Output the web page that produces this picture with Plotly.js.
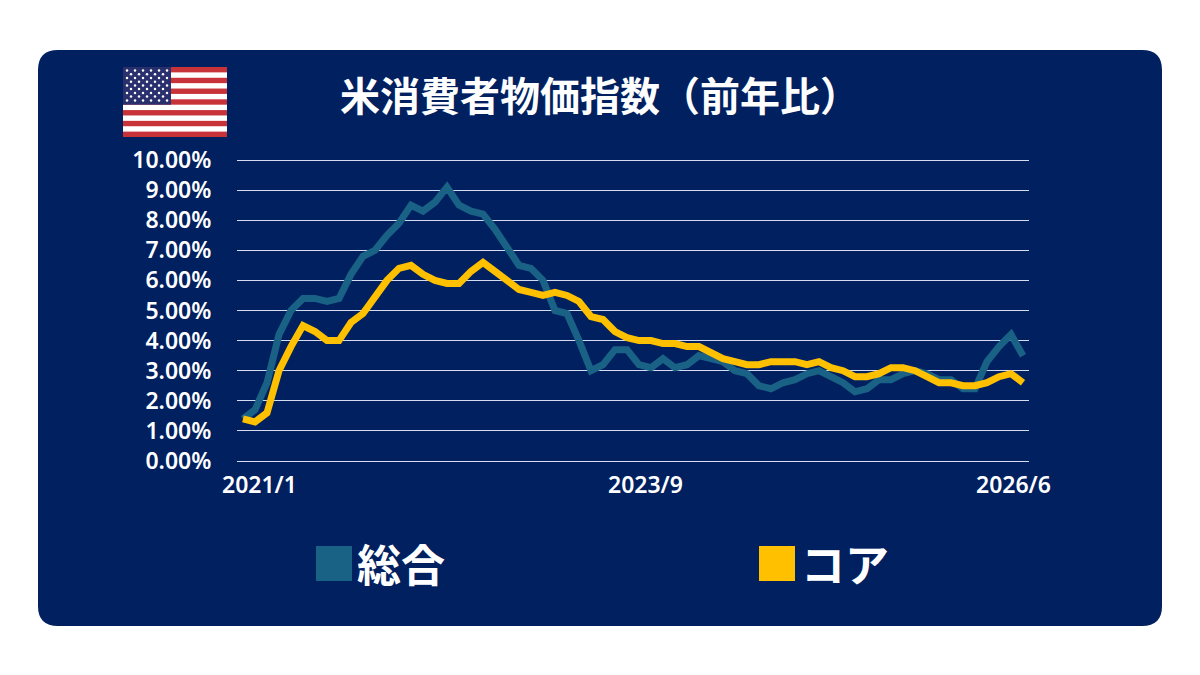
<!DOCTYPE html>
<html><head><meta charset="utf-8">
<script src="https://cdn.plot.ly/plotly-3.0.1.min.js"></script>
<style>html,body{margin:0;padding:0;background:#fff}#c{width:1200px;height:675px}</style>
</head><body><div id="c"></div>
<script>
const months = ["2021/1","2021/2","2021/3","2021/4","2021/5","2021/6","2021/7","2021/8","2021/9","2021/10","2021/11","2021/12",
"2022/1","2022/2","2022/3","2022/4","2022/5","2022/6","2022/7","2022/8","2022/9","2022/10","2022/11","2022/12",
"2023/1","2023/2","2023/3","2023/4","2023/5","2023/6","2023/7","2023/8","2023/9","2023/10","2023/11","2023/12",
"2024/1","2024/2","2024/3","2024/4","2024/5","2024/6","2024/7","2024/8","2024/9","2024/10","2024/11","2024/12",
"2025/1","2025/2","2025/3","2025/4","2025/5","2025/6","2025/7","2025/8","2025/9","2025/10","2025/11","2025/12",
"2026/1","2026/2","2026/3","2026/4","2026/5","2026/6"];
const headline = [1.4,1.7,2.6,4.2,5.0,5.4,5.4,5.3,5.4,6.2,6.8,7.0,
7.5,7.9,8.5,8.3,8.6,9.1,8.5,8.3,8.2,7.7,7.1,6.5,
6.4,6.0,5.0,4.9,4.0,3.0,3.2,3.7,3.7,3.2,3.1,3.4,
3.1,3.2,3.5,3.4,3.3,3.0,2.9,2.5,2.4,2.6,2.7,2.9,
3.0,2.8,2.6,2.3,2.4,2.7,2.7,2.9,3.0,2.9,2.7,2.7,
2.4,2.4,3.3,3.8,4.2,3.5];
const core = [1.4,1.3,1.6,3.0,3.8,4.5,4.3,4.0,4.0,4.6,4.9,5.5,
6.0,6.4,6.5,6.2,6.0,5.9,5.9,6.3,6.6,6.3,6.0,5.7,
5.6,5.5,5.6,5.5,5.3,4.8,4.7,4.3,4.1,4.0,4.0,3.9,
3.9,3.8,3.8,3.6,3.4,3.3,3.2,3.2,3.3,3.3,3.3,3.2,
3.3,3.1,3.0,2.8,2.8,2.9,3.1,3.1,3.0,2.8,2.6,2.6,
2.5,2.5,2.6,2.8,2.9,2.6];
const yTicks = [0,1,2,3,4,5,6,7,8,9,10];
const yLabels = ["0.00%","1.00%","2.00%","3.00%","4.00%","5.00%","6.00%","7.00%","8.00%","9.00%","10.00%"];
const xLabels = ["2021/1","2023/9","2026/6"];
const xLabelPx = [259.5,645,1013.5];
const titleText = "米消費者物価指数（前年比）";
const seriesNames = ["総合","コア"];
const colors = ["#1A6285","#FFC000"];

const W=1200,H=675,JP='"Noto Sans CJK JP","Noto Sans",sans-serif';
const ML=237,MT=158,PW=792,PH=305;
const px=x=>(x-ML)/PW, py=y=>1-(y-MT)/PH;

function flagSvg(){
  let s='<svg xmlns="http://www.w3.org/2000/svg" width="312" height="210" viewBox="0 0 104 70">';
  s+='<rect width="104" height="70" fill="#fff"/>';
  for(let i=0;i<7;i++) s+=`<rect y="${(i*2*70/13).toFixed(2)}" width="104" height="${(70/13).toFixed(2)}" fill="#C8333A"/>`;
  s+=`<rect width="48" height="${(7*70/13).toFixed(2)}" fill="#2A2F6E"/>`;
  for(let r=0;r<9;r++){const n=r%2?5:6;for(let c=0;c<n;c++){
    s+=`<circle cx="${(4+c*8+(r%2?4:0)).toFixed(1)}" cy="${(3.4+r*3.75).toFixed(1)}" r="1.25" fill="#fff"/>`;}}
  return 'data:image/svg+xml;base64,'+btoa(s+'</svg>');
}
const r=20,L=38,R=1162,T=50,B=626;
const card=`M ${px(L+r)} ${py(T)} L ${px(R-r)} ${py(T)} Q ${px(R)} ${py(T)} ${px(R)} ${py(T+r)} L ${px(R)} ${py(B-r)} Q ${px(R)} ${py(B)} ${px(R-r)} ${py(B)} L ${px(L+r)} ${py(B)} Q ${px(L)} ${py(B)} ${px(L)} ${py(B-r)} L ${px(L)} ${py(T+r)} Q ${px(L)} ${py(T)} ${px(L+r)} ${py(T)} Z`;
const rect=(x0,y0,x1,y1,c)=>({type:'rect',xref:'paper',yref:'paper',x0:px(x0),x1:px(x1),y0:py(y0),y1:py(y1),fillcolor:c,line:{width:0},layer:'above'});

const traces=[headline,core].map((v,i)=>({type:'scatter',mode:'lines',name:seriesNames[i],x:months,y:v,
  line:{color:colors[i],width:7,shape:'linear'},hoverinfo:'x+y'}));

const layout={width:W,height:H,paper_bgcolor:'#fff',plot_bgcolor:'rgba(0,0,0,0)',showlegend:false,
  margin:{l:ML,r:W-ML-PW,t:MT,b:H-MT-PH,pad:0},
  title:{text:titleText,x:340/W,xanchor:'left',xref:'container',y:1-97/H,yanchor:'middle',yref:'container',
    font:{family:JP,size:40,color:'#fff',weight:700}},
  xaxis:{type:'category',categoryorder:'array',categoryarray:months,range:[-0.5,65.5],showgrid:false,zeroline:false,showline:false,ticks:'',showticklabels:false,fixedrange:true},
  yaxis:{range:[-0.0664,10.0664],tickmode:'array',tickvals:yTicks,ticktext:yLabels,gridcolor:'#D5DCF2',gridwidth:1,zeroline:false,showline:false,
    ticks:'outside',ticklen:20,tickcolor:'rgba(0,0,0,0)',tickfont:{family:'"Noto Sans",sans-serif',size:23,color:'#fff',weight:600},fixedrange:true},
  shapes:[
    {type:'path',path:card,xref:'paper',yref:'paper',fillcolor:'#002060',line:{width:0},layer:'below'},
    rect(316,546,352,581,colors[0]),
    rect(759,546,795,581,colors[1])
  ],
  images:[{source:flagSvg(),xref:'paper',yref:'paper',x:px(123),y:py(67),sizex:104/PW,sizey:70/PH,sizing:'stretch',xanchor:'left',yanchor:'top',layer:'above'}],
  annotations:[
    ...xLabels.map((t,i)=>({text:t,xref:'paper',yref:'paper',x:px(xLabelPx[i]),y:py(484),xanchor:'center',yanchor:'middle',showarrow:false,
      font:{family:'"Noto Sans",sans-serif',size:23,color:'#fff',weight:600}})),
    {text:seriesNames[0],xref:'paper',yref:'paper',x:px(355),y:py(563),xanchor:'left',yanchor:'middle',showarrow:false,font:{family:JP,size:44,color:'#fff',weight:700}},
    {text:seriesNames[1],xref:'paper',yref:'paper',x:px(799),y:py(563),xanchor:'left',yanchor:'middle',showarrow:false,font:{family:JP,size:44,color:'#fff',weight:700}}
  ]
};
Plotly.newPlot('c',traces,layout,{displayModeBar:false,staticPlot:true});
</script></body></html>
